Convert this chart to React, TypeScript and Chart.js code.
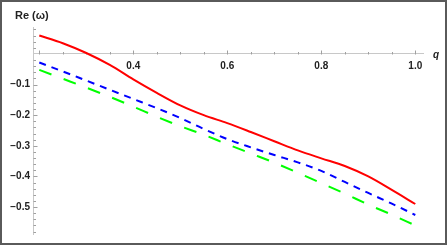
import React, { useEffect, useRef } from 'react';
import { Chart, registerables } from 'chart.js';

Chart.register(...registerables);

const qValues = [0.2, 0.25, 0.3, 0.35, 0.4, 0.45, 0.5, 0.55, 0.6, 0.65, 0.7, 0.75, 0.8, 0.85, 0.9, 0.95, 1.0];
const redValues = [0.060, 0.035, 0.003, -0.036, -0.083, -0.127, -0.168, -0.200, -0.226, -0.255, -0.285, -0.315, -0.341, -0.366, -0.400, -0.444, -0.490];
const blueValues = [-0.028, -0.057, -0.087, -0.117, -0.147, -0.177, -0.209, -0.245, -0.278, -0.305, -0.330, -0.354, -0.382, -0.418, -0.454, -0.489, -0.526];
const greenValues = [-0.052, -0.081, -0.110, -0.140, -0.172, -0.205, -0.236, -0.264, -0.295, -0.325, -0.355, -0.388, -0.422, -0.456, -0.492, -0.525, -0.560];

const xMajorTicks = [0.2, 0.4, 0.6, 0.8, 1.0];
const xMinorTicks = [0.25, 0.3, 0.35, 0.45, 0.5, 0.55, 0.65, 0.7, 0.75, 0.85, 0.9, 0.95];
const yMajorTicks = [-0.5, -0.4, -0.3, -0.2, -0.1];
const yMinorTicks = [-0.58, -0.56, -0.54, -0.52, -0.48, -0.46, -0.44, -0.42, -0.38, -0.36, -0.34, -0.32, -0.28, -0.26, -0.24, -0.22, -0.18, -0.16, -0.14, -0.12, -0.08, -0.06, -0.04, -0.02, 0.02, 0.04, 0.06, 0.08];

const yTitle = 'Re (ω)';
const xTitle = 'q';

const FONT = '"Liberation Sans", Arial, sans-serif';

const toPoints = (ys: number[]) => qValues.map((q, i) => ({ x: q, y: ys[i] }));

const axisPlugin = {
  id: 'mathAxes',
  beforeDatasetsDraw(chart: any) {
    const ctx = chart.ctx;
    const xs = chart.scales.x;
    const ys = chart.scales.y;
    const y0 = Math.round(ys.getPixelForValue(0)) + 0.5;
    const xl = Math.round(chart.chartArea.left) + 0.5;
    ctx.save();
    ctx.strokeStyle = '#a0a0a0';
    ctx.lineWidth = 1;
    ctx.beginPath();
    xMajorTicks.forEach((v) => {
      const px = Math.round(xs.getPixelForValue(v)) + 0.5;
      ctx.moveTo(px, y0);
      ctx.lineTo(px, y0 - 4);
    });
    xMinorTicks.forEach((v) => {
      const px = Math.round(xs.getPixelForValue(v)) + 0.5;
      ctx.moveTo(px, y0);
      ctx.lineTo(px, y0 - 2.5);
    });
    yMajorTicks.forEach((v) => {
      const py = Math.round(ys.getPixelForValue(v)) + 0.5;
      ctx.moveTo(xl, py);
      ctx.lineTo(xl + 4, py);
    });
    yMinorTicks.forEach((v) => {
      const py = Math.round(ys.getPixelForValue(v)) + 0.5;
      ctx.moveTo(xl, py);
      ctx.lineTo(xl + 2.5, py);
    });
    ctx.stroke();
    ctx.restore();
  },
  afterDraw(chart: any) {
    const ctx = chart.ctx;
    const ys = chart.scales.y;
    const y0 = ys.getPixelForValue(0);
    ctx.save();
    ctx.fillStyle = '#222';
    ctx.textBaseline = 'alphabetic';
    ctx.textAlign = 'left';
    ctx.font = `bold 11px ${FONT}`;
    ctx.fillText(yTitle, 13, 17);
    ctx.font = `italic bold 10px ${FONT}`;
    ctx.fillText(xTitle, 431, y0 + 4);
    ctx.restore();
  },
};

export default function App() {
  const ref = useRef<HTMLCanvasElement | null>(null);
  useEffect(() => {
    document.body.style.margin = '0';
    const canvas = ref.current;
    if (!canvas) return;
    const chart = new Chart(canvas, {
      type: 'line',
      data: {
        datasets: [
          {
            data: toPoints(redValues),
            borderColor: '#ff0000',
            borderWidth: 2,
            pointRadius: 0,
            cubicInterpolationMode: 'monotone',
            fill: false,
          },
          {
            data: toPoints(blueValues),
            borderColor: '#0000ff',
            borderWidth: 2,
            borderDash: [7, 6],
            pointRadius: 0,
            cubicInterpolationMode: 'monotone',
            fill: false,
          },
          {
            data: toPoints(greenValues),
            borderColor: '#00ff00',
            borderWidth: 2,
            borderDash: [13, 13],
            pointRadius: 0,
            cubicInterpolationMode: 'monotone',
            fill: false,
          },
        ],
      },
      options: {
        animation: false,
        responsive: false,
        devicePixelRatio: 1,
        layout: { padding: { top: 25, right: 22, bottom: 8, left: 0 } },
        plugins: { legend: { display: false }, tooltip: { enabled: false }, title: { display: false } },
        scales: {
          x: {
            type: 'linear',
            position: { y: 0 } as any,
            min: 0.1866,
            max: 1.0164,
            grid: { display: false, drawTicks: false },
            border: { display: true, color: '#c8c8c8', width: 1 },
            ticks: {
              stepSize: 0.2,
              includeBounds: false,
              maxRotation: 0,
              autoSkip: false,
              padding: 6,
              color: '#222',
              font: { family: FONT, size: 10, weight: 'bold' },
              callback: (v: any) => (Number(v) > 0.3 ? Number(v).toFixed(1) : ''),
            },
            afterFit: (s: any) => {
              s.height = 0;
            },
          },
          y: {
            type: 'linear',
            position: 'left',
            min: -0.588,
            max: 0.088,
            grid: { display: false, drawTicks: false },
            border: { display: true, color: '#c8c8c8', width: 1 },
            ticks: {
              stepSize: 0.1,
              includeBounds: false,
              padding: 3,
              color: '#222',
              font: { family: FONT, size: 10, weight: 'bold' },
              callback: (v: any) => (Number(v) < -0.05 ? '\u2212' + Math.abs(Number(v)).toFixed(1) : ''),
            },
            afterFit: (s: any) => {
              s.width = 31;
            },
          },
        },
      },
      plugins: [axisPlugin],
    });
    return () => chart.destroy();
  }, []);

  return (
    <div
      style={{
        position: 'fixed',
        left: 0,
        top: 0,
        width: 447,
        height: 245,
        boxSizing: 'border-box',
        border: '2px solid #5a5a5a',
        background: '#fff',
      }}
    >
      <canvas ref={ref} width={443} height={241} style={{ display: 'block' }} />
    </div>
  );
}
